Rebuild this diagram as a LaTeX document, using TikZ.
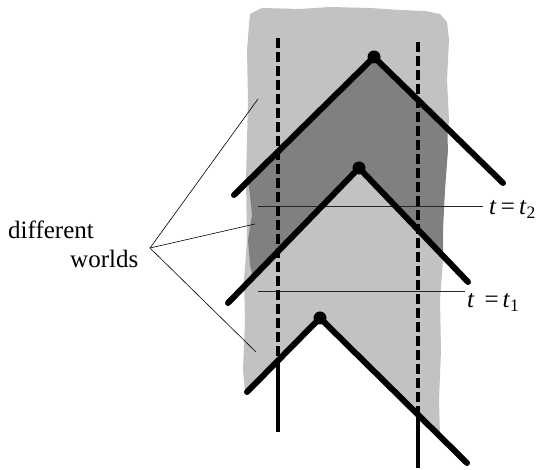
\documentclass[tikz,border=0pt]{standalone}
\usepackage{fontspec}
\setmainfont{Liberation Serif}
\usetikzlibrary{positioning}

\definecolor{worldlight}{RGB}{194,194,194}
\definecolor{worlddark}{RGB}{128,128,128}

\begin{document}
\begin{tikzpicture}[
  x=1pt, y=-1pt,
  font=\fontsize{25}{30}\selectfont,
  worldline/.style={line width=6pt, line cap=round},
  event/.style={circle, fill=black, minimum size=13pt, inner sep=0pt},
  observer/.style={line width=4pt, dash pattern=on 10pt off 4pt},
  observersolid/.style={line width=4pt},
  slice/.style={line width=1pt, draw=black!85},
  pointer/.style={line width=0.6pt},
  tlabel/.style={inner sep=0pt, anchor=base west},
]
\useasboundingbox (0,0) rectangle (542,470);

% Worlds (shaded regions)
\fill[worldlight] (250,14) -- (262,8) -- (300,9) -- (330,7) -- (370,8) -- (400,10)
  -- (425,11) -- (440,14) -- (447,22) -- (449,40) -- (447,80) -- (449,120)
  -- (446,160) -- (444,200) -- (441,230) -- (443,260) -- (440,300) -- (441,350)
  -- (439,400) -- (440,436) -- (320,318) -- (245,392) -- (243,370) -- (245,320)
  -- (244,280) -- (247,240) -- (246,180) -- (248,100) -- (247,50) -- (249,25) -- cycle;
\fill[worlddark] (248,181) -- (374,57) -- (447,128) -- (448,150) -- (445,190)
  -- (443,230) -- (443,256) -- (359,168) -- (253,277) -- (250,265) -- (248,240)
  -- (252,215) -- (250,195) -- cycle;

% Time slices
\coordinate (s2a) at (258,207);
\coordinate (s2b) at (483,207);
\coordinate (s1a) at (258,292);
\coordinate (s1b) at (465,292);
\draw[slice] (s2a) -- (s2b);
\draw[slice] (s1a) -- (s1b);
\node[tlabel] (t2) at (489,215) {\textit{t}\,=\,\textit{t}\textsubscript{2}};
\node[tlabel] (t1) at (467,308) {\textit{t}\hspace{10pt}=\hspace{4pt}\textit{t}\textsubscript{1}};

% Observers (vertical lines)
\coordinate (o1top) at (278,38);
\coordinate (o1x) at (278,360);
\coordinate (o1bot) at (278,432);
\coordinate (o2top) at (418,42);
\coordinate (o2x) at (418,416);
\coordinate (o2bot) at (418,468);
\draw[observer] (o1top) -- (o1x);
\draw[observersolid] (o1x) -- (o1bot);
\draw[observer] (o2top) -- (o2x);
\draw[observersolid] (o2x) -- (o2bot);

% Light cones
\node[event] (e3) at (374,57) {};
\node[event] (e2) at (359,168) {};
\node[event] (e1) at (320,318) {};
\coordinate (w3l) at (234,195);
\coordinate (w3r) at (503,183);
\coordinate (w2l) at (228,303);
\coordinate (w2r) at (468,282);
\coordinate (w1l) at (247,392);
\coordinate (w1r) at (467,463);
\draw[worldline] (w3l) -- (e3.center) -- (w3r);
\draw[worldline] (w2l) -- (e2.center) -- (w2r);
\draw[worldline] (w1l) -- (e1.center) -- (w1r);

% Caption with pointers
\node[tlabel] (diff) at (8,239) {different};
\node[tlabel] (worlds) at (70,268) {worlds};
\coordinate (hub) at (150,248);
\coordinate (p3) at (258,99);
\coordinate (p2) at (255,224);
\coordinate (p1) at (256,352);
\draw[pointer] (p3) -- (hub) -- (p1);
\draw[pointer] (hub) -- (p2);

\end{tikzpicture}
\end{document}
